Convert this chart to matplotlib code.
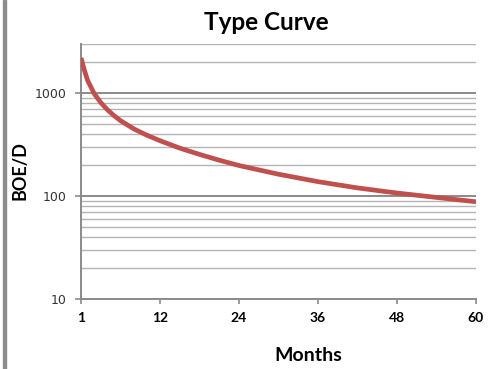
import numpy as np
import matplotlib
matplotlib.use("Agg")
import matplotlib.pyplot as plt
from matplotlib.patches import Rectangle
from matplotlib.ticker import FixedLocator, NullFormatter

# values (month, BOE/D)
months = [0, 0.5, 1, 2, 3, 4, 5, 6, 8, 10, 12, 15, 18, 21, 24, 30, 36, 42, 48, 54, 60]
boed = [2200, 1680, 1330, 990, 810, 690, 605, 540, 450, 390, 345, 292, 254, 223, 198,
        163, 138, 120, 107, 97, 88]

xtick_pos = [0, 12, 24, 36, 48, 60]
xtick_lab = ["1", "12", "24", "36", "48", "60"]
ytick_pos = [10, 100, 1000]
ytick_lab = ["10", "100", "1000"]
minor_pos = [v * d for d in (10, 100, 1000) for v in range(2, 10)]
minor_pos = [m for m in minor_pos if m <= 3000]

fig = plt.figure(figsize=(4.93, 3.69), dpi=100)
fig.patches.append(Rectangle((3 / 493, 0), 3 / 493, 1, transform=fig.transFigure,
                             color="#8c8c8c", zorder=0))

ax = fig.add_axes([81 / 493, 1 - 299 / 369, 395 / 493, 255 / 369])
ax.set_yscale("log")
ax.set_xlim(0, 60)
ax.set_ylim(10, 3000)

# gridlines
for m in minor_pos:
    ax.axhline(m, color="#b4b4b4", lw=1.0, zorder=1)
for m in [100, 1000]:
    ax.axhline(m, color="#8a8a8a", lw=1.4, zorder=1)

ax.plot(months, boed, color="#c0504d", lw=3.4, solid_capstyle="butt", zorder=3)

for s in ["top", "right"]:
    ax.spines[s].set_visible(False)
for s in ["left", "bottom"]:
    ax.spines[s].set_color("#8a8a8a")
    ax.spines[s].set_linewidth(1.4)

ax.xaxis.set_major_locator(FixedLocator(xtick_pos))
ax.set_xticklabels(xtick_lab, fontfamily="Lato", fontweight="bold", fontsize=10)
ax.yaxis.set_major_locator(FixedLocator(ytick_pos))
ax.set_yticklabels(ytick_lab, fontfamily="DejaVu Sans", fontsize=9, color="#333333")
ax.yaxis.set_minor_formatter(NullFormatter())
ax.tick_params(axis="y", which="minor", length=0)
ax.tick_params(axis="y", which="major", length=4.3, width=1.2, color="#8a8a8a", pad=6)
ax.tick_params(axis="x", which="major", length=3.5, width=1.2, color="#8a8a8a", pad=6)

fig.text(266 / 493, 1 - 29.5 / 369, "Type Curve", ha="center", va="baseline",
         fontfamily="Lato", fontweight="bold", fontsize=17.5)
fig.text(308 / 493, 1 - 361 / 369, "Months", ha="center", va="baseline",
         fontfamily="Lato", fontweight="bold", fontsize=14)
fig.text(20 / 493, 1 - 171 / 369, "BOE/D", ha="center", va="center", rotation=90,
         fontfamily="Lato", fontweight="bold", fontsize=13)

fig.savefig("out.png", dpi=100)
